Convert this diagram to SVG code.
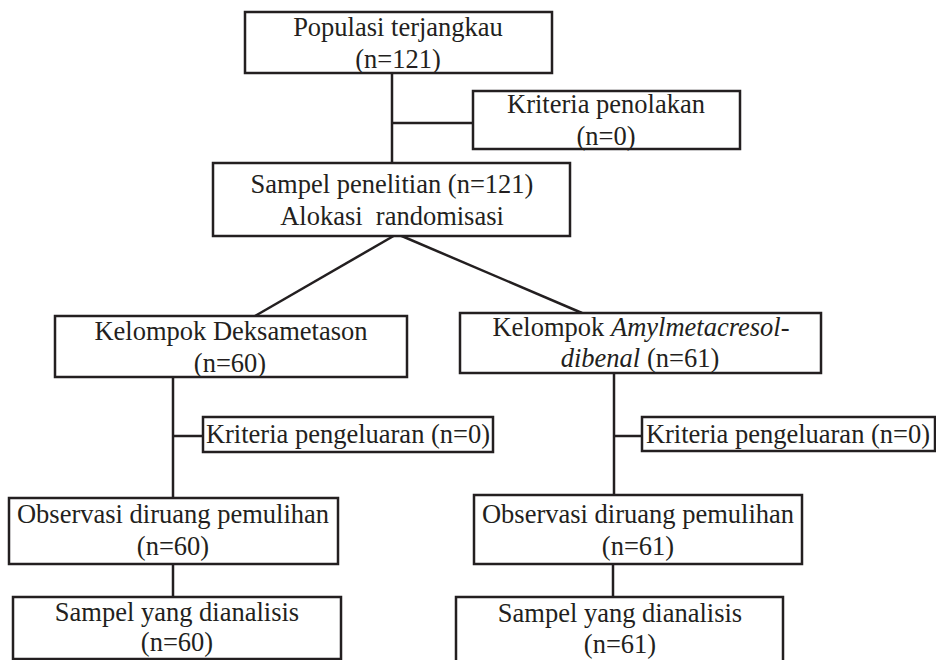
<svg xmlns="http://www.w3.org/2000/svg" width="936" height="660" viewBox="0 0 936 660">
<style>
.box{fill:#fff;stroke:#231f20;stroke-width:2.5}
.ln{fill:none;stroke:#231f20;stroke-width:2.5}
</style>
<rect width="936" height="660" fill="#fff"/>
<g id="connectors">
<line class="ln" x1="392" y1="73" x2="392" y2="163"/>
<line class="ln" x1="392" y1="123" x2="473" y2="123"/>
<line class="ln" x1="397" y1="234" x2="255" y2="316"/>
<line class="ln" x1="397" y1="234" x2="582" y2="313"/>
<line class="ln" x1="173" y1="377" x2="173" y2="498"/>
<line class="ln" x1="173" y1="436" x2="203" y2="436"/>
<line class="ln" x1="614" y1="373" x2="614" y2="495"/>
<line class="ln" x1="614" y1="436" x2="642" y2="436"/>
<line class="ln" x1="173" y1="564" x2="173" y2="597"/>
<line class="ln" x1="613" y1="564" x2="613" y2="597"/>
</g>
<g font-family="Liberation Serif, DejaVu Serif, serif" font-size="26.5" fill="#231f20" text-anchor="middle">
<g id="populasi">
<rect class="box" x="245" y="12" width="307" height="61"/>
<text x="398" y="36">Populasi terjangkau</text>
<text x="398" y="68">(n=121)</text>
</g>
<g id="penolakan">
<rect class="box" x="473" y="91" width="267" height="58"/>
<text x="606" y="113">Kriteria penolakan</text>
<text x="606" y="145">(n=0)</text>
</g>
<g id="sampel">
<rect class="box" x="213" y="163" width="357" height="73"/>
<text x="392" y="193">Sampel penelitian (n=121)</text>
<text x="392" y="225" xml:space="preserve">Alokasi  randomisasi</text>
</g>
<g id="deksametason">
<rect class="box" x="55" y="316" width="352" height="61"/>
<text x="231" y="340">Kelompok Deksametason</text>
<text x="230" y="372">(n=60)</text>
</g>
<g id="amyl">
<rect class="box" x="460" y="313" width="361" height="60"/>
<text x="641" y="336">Kelompok <tspan font-style="italic">Amylmetacresol-</tspan></text>
<text x="640" y="367"><tspan font-style="italic">dibenal</tspan> (n=61)</text>
</g>
<g id="pengeluaran-left">
<rect class="box" x="203" y="417" width="290" height="35"/>
<text x="348" y="443">Kriteria pengeluaran (n=0)</text>
</g>
<g id="pengeluaran-right">
<rect class="box" x="642" y="417" width="293" height="34"/>
<text x="788" y="443">Kriteria pengeluaran (n=0)</text>
</g>
<g id="observasi-left">
<rect class="box" x="9" y="498" width="329" height="66"/>
<text x="173" y="523">Observasi diruang pemulihan</text>
<text x="173" y="555">(n=60)</text>
</g>
<g id="observasi-right">
<rect class="box" x="474" y="495" width="328" height="69"/>
<text x="638" y="523">Observasi diruang pemulihan</text>
<text x="638" y="555">(n=61)</text>
</g>
<g id="analisis-left">
<rect class="box" x="13" y="597" width="328" height="62"/>
<text x="177" y="621">Sampel yang dianalisis</text>
<text x="177" y="651">(n=60)</text>
</g>
<g id="analisis-right">
<rect class="box" x="456" y="597" width="327" height="70"/>
<text x="620" y="622">Sampel yang dianalisis</text>
<text x="620" y="653">(n=61)</text>
</g>
</g>
</svg>
